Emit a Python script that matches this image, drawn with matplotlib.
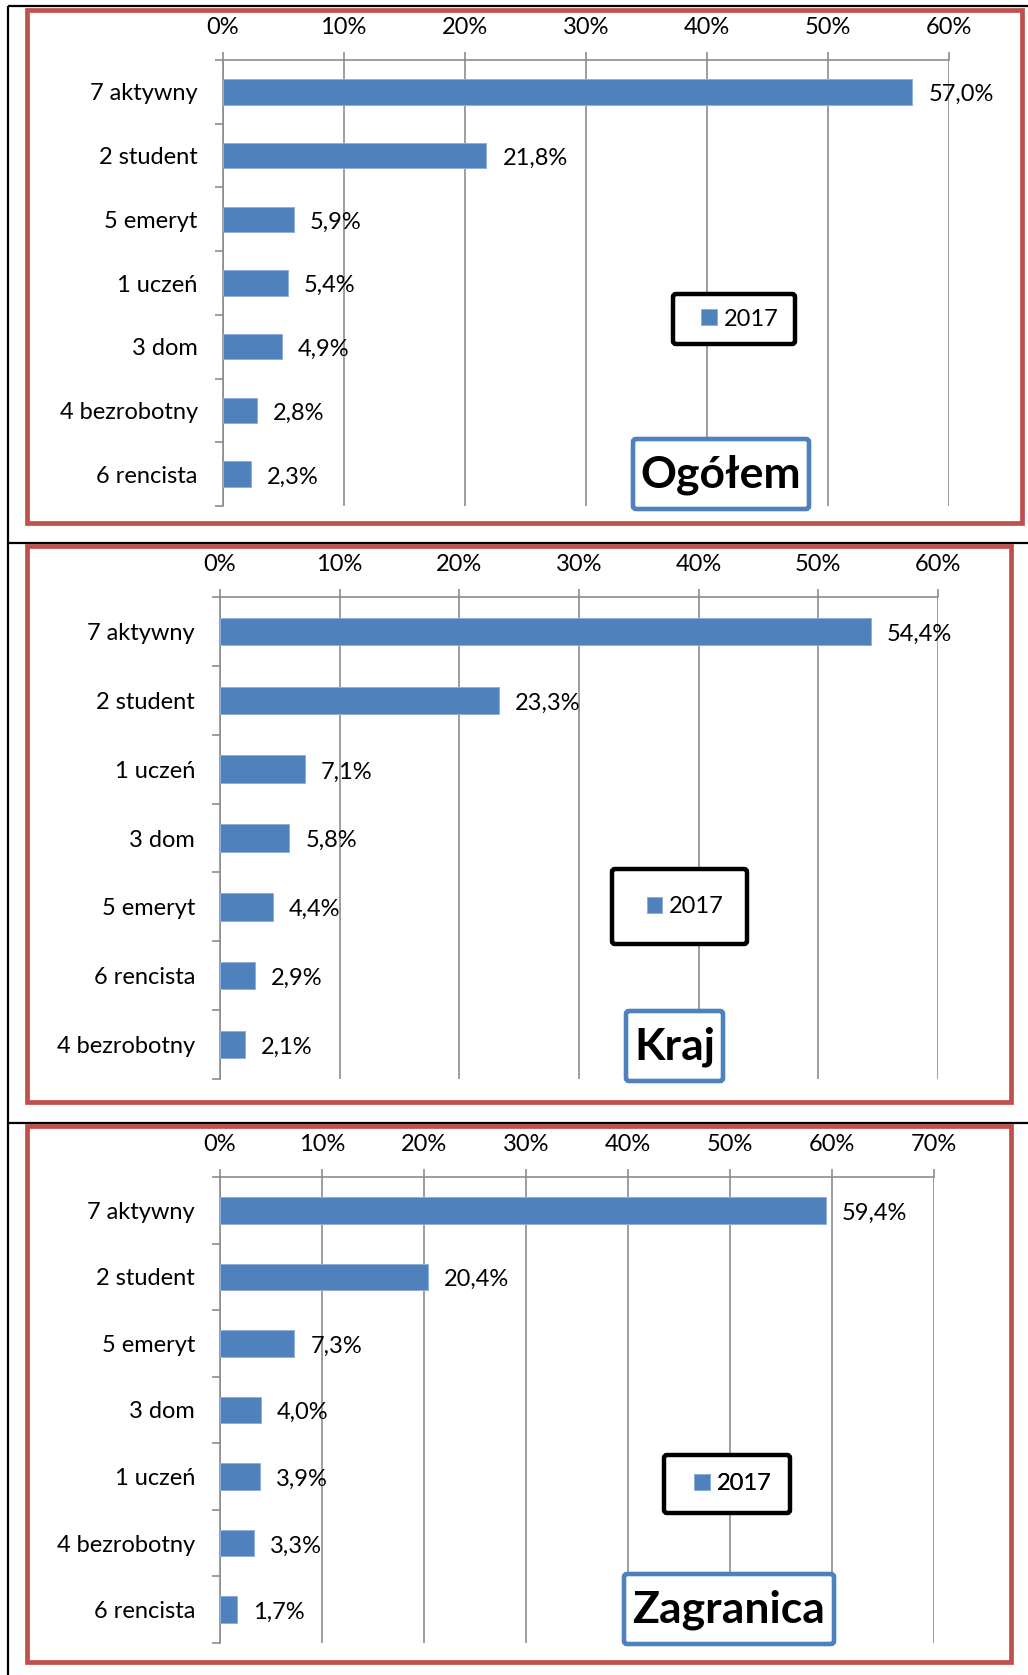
import matplotlib.pyplot as plt
from matplotlib.patches import Rectangle, FancyBboxPatch
from matplotlib.ticker import FixedLocator, PercentFormatter

plt.rcParams['font.family'] = ['Lato', 'DejaVu Sans']

W, H = 1028, 1675

# Ogółem
cat_all = ['7 aktywny', '2 student', '5 emeryt', '1 uczeń', '3 dom', '4 bezrobotny', '6 rencista']
val_all = [57.0, 21.8, 5.9, 5.4, 4.9, 2.8, 2.3]
# Kraj
cat_kraj = ['7 aktywny', '2 student', '1 uczeń', '3 dom', '5 emeryt', '6 rencista', '4 bezrobotny']
val_kraj = [54.4, 23.3, 7.1, 5.8, 4.4, 2.9, 2.1]
# Zagranica
cat_zagr = ['7 aktywny', '2 student', '5 emeryt', '3 dom', '1 uczeń', '4 bezrobotny', '6 rencista']
val_zagr = [59.4, 20.4, 7.3, 4.0, 3.9, 3.3, 1.7]

titles = ['Ogółem', 'Kraj', 'Zagranica']
x_max = [60, 60, 70]
series_name = '2017'

# layout in pixels (x0, y0, x1, y1), y from top
ax_px = [(222.7, 60, 948.7, 506), (220, 597, 938, 1079), (220, 1177, 934, 1643)]
red_px = [(27, 10, 1022, 523), (27, 546, 1011, 1102), (27, 1126, 1011, 1662)]
leg_px = [(673, 294, 795, 344), (612, 869, 747, 944), (664, 1455, 790, 1513)]
title_px = [(633, 439, 809, 509), (626, 1011, 723, 1081), (624, 1574, 834, 1644)]

BLUE = '#4F81BD'
GRID = '#8C8C8C'
RED = '#C0504D'
FS = 17


def frac(b):
    x0, y0, x1, y1 = b
    return [x0 / W, 1 - y1 / H, (x1 - x0) / W, (y1 - y0) / H]


fig = plt.figure(figsize=(W / 100, H / 100), dpi=100)

ov = fig.add_axes([0, 0, 1, 1], zorder=10)
ov.set_xlim(0, W)
ov.set_ylim(H, 0)
ov.axis('off')
ov.patch.set_alpha(0)

data = [(cat_all, val_all), (cat_kraj, val_kraj), (cat_zagr, val_zagr)]
for k, (cats, vals) in enumerate(data):
    ax = fig.add_axes(frac(ax_px[k]))
    n = len(cats)
    pos = list(range(n))
    bars = ax.barh(pos, vals, height=0.4, color=BLUE, edgecolor='#8DAFDA',
                   linewidth=0.7, label=series_name, zorder=3)
    ax.set_xlim(0, x_max[k])
    ax.set_ylim(n - 0.5, -0.5)
    ax.xaxis.tick_top()
    ax.set_xticks(range(0, x_max[k] + 1, 10))
    ax.xaxis.set_major_formatter(PercentFormatter(decimals=0))
    ax.tick_params(axis='x', direction='out', length=5.8, width=1.2, color=GRID,
                   pad=10, labelsize=FS)
    ax.grid(axis='x', color=GRID, linewidth=1.2, zorder=0)
    ax.set_yticks(pos)
    ax.set_yticklabels(cats)
    ax.yaxis.set_minor_locator(FixedLocator([p - 0.5 for p in range(n + 1)]))
    ax.tick_params(axis='y', which='major', length=0, pad=18, labelsize=FS)
    ax.tick_params(axis='y', which='minor', direction='out', length=5.8,
                   width=1.2, color=GRID)
    for s in ['right', 'bottom']:
        ax.spines[s].set_visible(False)
    for s in ['left', 'top']:
        ax.spines[s].set_color(GRID)
        ax.spines[s].set_linewidth(1.2)
    for p, v in zip(pos, vals):
        ax.annotate(f'{v:.1f}%'.replace('.', ','), (v, p), xytext=(11.5, -2),
                    textcoords='offset points', ha='left', va='center', fontsize=FS)

    # red frame round each chart
    x0, y0, x1, y1 = red_px[k]
    ov.add_patch(Rectangle((x0, y0), x1 - x0, y1 - y0, fill=False,
                           edgecolor=RED, linewidth=3.4))

    # legend box
    x0, y0, x1, y1 = leg_px[k]
    ov.add_patch(FancyBboxPatch((x0, y0), x1 - x0, y1 - y0,
                                boxstyle='round,pad=0,rounding_size=3',
                                facecolor='white', edgecolor='black', linewidth=3.2))
    leg = ov.legend(handles=[bars], labels=[series_name], loc='center',
                    bbox_to_anchor=((x0 + x1) / 2 + 6, (y0 + y1) / 2),
                    bbox_transform=ov.transData, frameon=False, fontsize=FS,
                    handlelength=0.65, handleheight=0.65, handletextpad=0.3)
    ov.add_artist(leg)

    # title box
    x0, y0, x1, y1 = title_px[k]
    ov.add_patch(FancyBboxPatch((x0, y0), x1 - x0, y1 - y0,
                                boxstyle='round,pad=0,rounding_size=3',
                                facecolor='white', edgecolor=BLUE, linewidth=3.3))
    ov.text((x0 + x1) / 2, (y0 + y1) / 2 + 1, titles[k], ha='center', va='center',
            fontsize=32, fontweight='bold')

# table lines of the page
for y in [6, 543, 1123]:
    ov.plot([8, W], [y, y], color='black', linewidth=1.6, solid_capstyle='butt')
ov.plot([8, 8], [6, H], color='black', linewidth=1.6, solid_capstyle='butt')

fig.savefig('out.png', dpi=100)
